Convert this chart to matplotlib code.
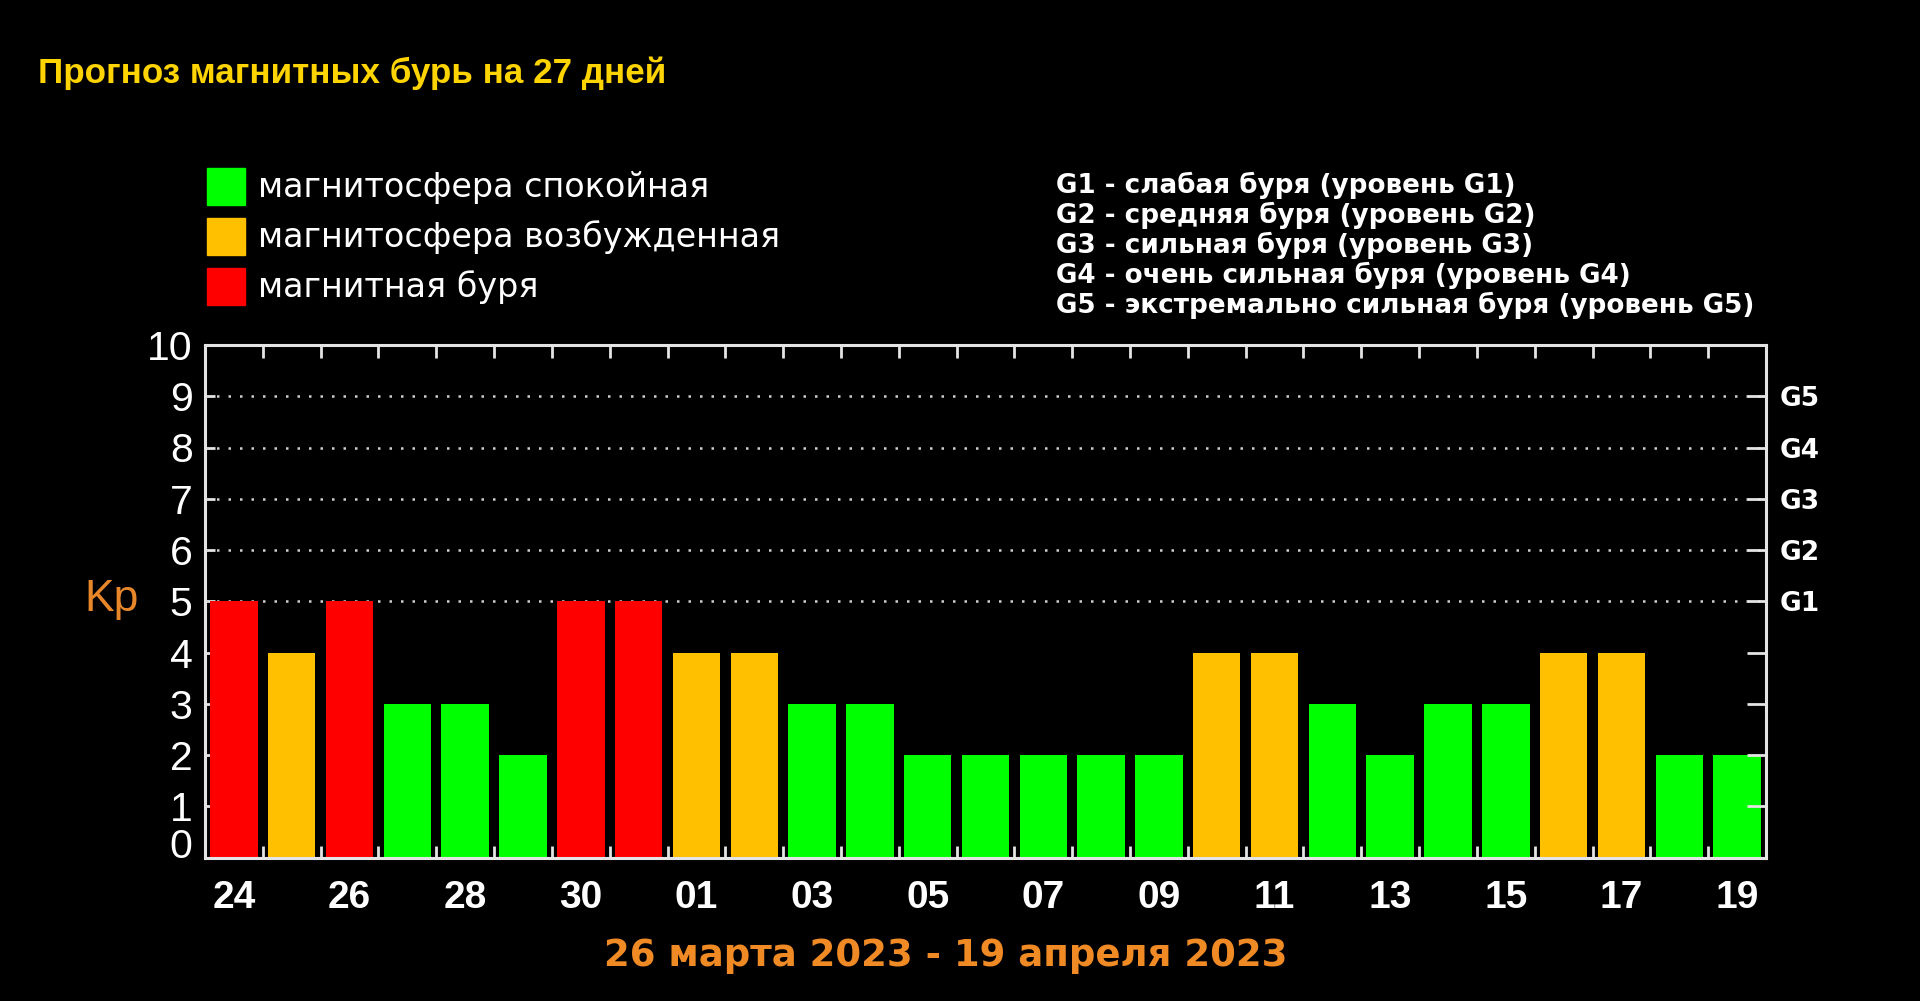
import matplotlib
matplotlib.use("Agg")
import matplotlib.pyplot as plt
from matplotlib import font_manager
from matplotlib.patches import Rectangle

# прогноз Kp по дням, 24 марта - 19 апреля
days = ['24', '25', '26', '27', '28', '29', '30', '31', '01', '02', '03', '04', '05', '06',
        '07', '08', '09', '10', '11', '12', '13', '14', '15', '16', '17', '18', '19']
kp = [5, 4, 5, 3, 3, 2, 5, 5, 4, 4, 3, 3, 2, 2, 2, 2, 2, 4, 4, 3, 2, 3, 3, 4, 4, 2, 2]

legend_labels = ['магнитосфера спокойная', 'магнитосфера возбужденная', 'магнитная буря']
g_levels = ['G1', 'G2', 'G3', 'G4', 'G5']
g_kp = [5, 6, 7, 8, 9]
g_desc = ['слабая буря', 'средняя буря', 'сильная буря', 'очень сильная буря',
          'экстремально сильная буря']

title = 'Прогноз магнитных бурь на 27 дней'
period = '26 марта 2023 - 19 апреля 2023'

W, H = 1920, 1001
GREEN, ORANGE, RED = '#00ff00', '#ffc000', '#ff0000'
LINE = '#e4e4e4'


def kp_color(v):
    if v >= 5:
        return RED
    if v == 4:
        return ORANGE
    return GREEN


def fx(px):
    return px / W


def fy(py):
    return 1 - py / H


installed = {f.name for f in font_manager.fontManager.ttflist}
SANS = 'Liberation Sans' if 'Liberation Sans' in installed else 'DejaVu Sans'
plt.rcParams['font.family'] = SANS

fig = plt.figure(figsize=(W / 100, H / 100), dpi=100, facecolor='black')
ax = fig.add_axes([fx(205), fy(857.5), (1766 - 205) / W, (857.5 - 345) / H])
ax.set_facecolor('black')

x = list(range(len(days)))
ax.bar(x, kp, width=0.82, color=[kp_color(v) for v in kp], zorder=3)
ax.set_xlim(-0.5, len(days) - 0.5)
ax.set_ylim(0, 10)

# пунктир на уровнях G1..G5
for v in g_kp:
    ax.axhline(v, color='#d0d0d0', lw=1.8, ls=(0, (1, 3.6)), zorder=2)

for s in ax.spines.values():
    s.set_color(LINE)
    s.set_linewidth(2.2)
    s.set_zorder(4)

ax.set_yticks(range(11))
ax.tick_params(axis='y', direction='in', length=7, width=2, color=LINE,
               labelcolor='white', labelsize=29.5, pad=9)
ax.get_yticklabels()[0].set_verticalalignment('baseline')

ax.set_xticks(x[::2])
ax.set_xticklabels(days[::2])
ax.set_xticks([i + 0.5 for i in x[:-1]], minor=True)
ax.tick_params(axis='x', which='major', length=0, pad=16, labelsize=28, labelcolor='white')
ax.tick_params(axis='x', which='minor', direction='in', length=9, width=2, color=LINE,
               top=True, bottom=True)
for lbl in ax.get_xticklabels():
    lbl.set_fontweight('bold')

# правая шкала G
ax2 = ax.twinx()
ax2.set_ylim(0, 10)
ax2.set_yticks(range(1, 10))
g_map = dict(zip(g_kp, g_levels))
ax2.set_yticklabels([g_map.get(t, '') for t in range(1, 10)])
ax2.tick_params(axis='y', direction='in', length=14, width=2, color=LINE,
                labelcolor='white', labelsize=19, pad=10)
for lbl in ax2.get_yticklabels():
    lbl.set_fontweight('bold')
    lbl.set_family('DejaVu Sans')
for s in ax2.spines.values():
    s.set_visible(False)

fig.text(fx(112), fy(600), 'Kp', color='#e8872a', fontsize=32, ha='center', va='center')

fig.text(fx(38), fy(73), title, color='#ffd400', fontsize=25.2, fontweight='bold',
         ha='left', va='center')

# легенда цветов
for i, (lab, col) in enumerate(zip(legend_labels, [GREEN, ORANGE, RED])):
    top = 168 + 50 * i
    fig.add_artist(Rectangle((fx(207), fy(top + 37)), 38 / W, 37 / H,
                             transform=fig.transFigure, color=col))
    fig.text(fx(258), fy(top + 19), lab, color='white', fontsize=24,
             family='DejaVu Sans', ha='left', va='center')

# расшифровка уровней
for i, (g, d) in enumerate(zip(g_levels, g_desc)):
    fig.text(fx(1056), fy(185.5 + 30 * i), f'{g} - {d} (уровень {g})', color='white',
             fontsize=18.9, fontweight='bold', family='DejaVu Sans', ha='left', va='center')

fig.text(fx(946), fy(955), period, color='#f08a24', fontsize=26.7, fontweight='bold',
         family='DejaVu Sans', ha='center', va='center')

fig.savefig('out.png', dpi=100, facecolor='black')
